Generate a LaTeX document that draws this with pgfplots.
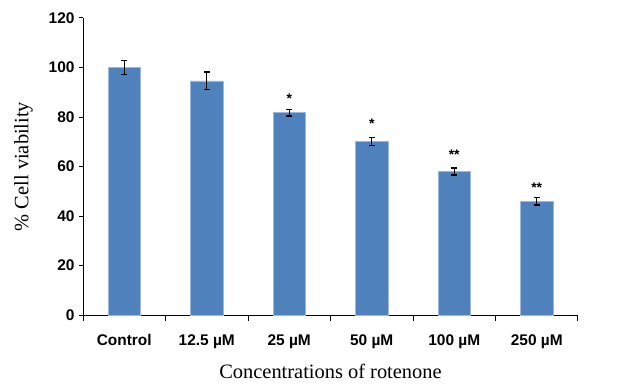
\documentclass[border=0pt]{standalone}
\usepackage{pgfplots}
\pgfplotsset{compat=1.18}
\usepackage{fontspec}
\setmainfont{Liberation Serif}
\newfontfamily\arialf{Liberation Sans}
\definecolor{barblue}{HTML}{4F81BD}
\definecolor{baredge}{HTML}{9DB8DC}
\begin{document}
\begin{tikzpicture}
\begin{axis}[
  at={(0,0)}, anchor=south west,
  scale only axis,
  width=495bp, height=297bp,
  xmin=-0.5, xmax=5.5, ymin=0, ymax=120,
  axis x line=bottom, axis y line=left,
  axis line style={-, line width=1pt, black},
  ytick={0,20,...,120},
  xtick={0,...,5},
  xticklabels={Control, 12.5 µM, 25 µM, 50 µM, 100 µM, 250 µM},
  minor xtick={-0.5,0.5,...,5.5},
  major x tick style={draw=none},
  minor x tick style={black, line width=1pt},
  y tick style={black, line width=1pt},
  tick align=outside,
  major tick length=4bp, minor tick length=6bp,
  /pgf/number format/assume math mode=true,
  ticklabel style={font=\arialf\bfseries\fontsize{15.5}{18}\selectfont},
  xticklabel style={yshift=-12bp},
  yticklabel style={xshift=-1bp},
  xlabel={Concentrations of rotenone},
  ylabel={\% Cell viability},
  label style={font=\fontsize{20.5}{24}\selectfont},
  xlabel style={yshift=-9bp},
  ylabel style={yshift=9bp},
  clip=false,
]
\addplot[ybar, bar width=0.39, fill=barblue, draw=baredge, line width=0.6pt,
  error bars/.cd, y dir=both, y explicit,
  error bar style={black, line width=1.4pt},
  error mark options={black, line width=1.5pt, mark size=2.8bp, rotate=90}]
  table[x=x, y=y, y error=e] {
x y e
0 100.0 2.8
1 94.6 3.5
2 81.8 1.3
3 70.1 1.7
4 58.0 1.4
5 45.9 1.5
};
\addplot[draw=none, mark=none,
  nodes near coords, point meta=explicit symbolic,
  every node near coord/.style={anchor=center, inner sep=0pt, font=\arialf\bfseries\fontsize{14}{14}\selectfont}]
  table[x=x, y=y, meta=s] {
x y s
2 87.5 *
3 77.3 *
4 64.9 **
5 51.6 **
};
\end{axis}
\pgfresetboundingbox
\path (-83bp,-70bp) rectangle (553bp,315bp);
\end{tikzpicture}
\end{document}
